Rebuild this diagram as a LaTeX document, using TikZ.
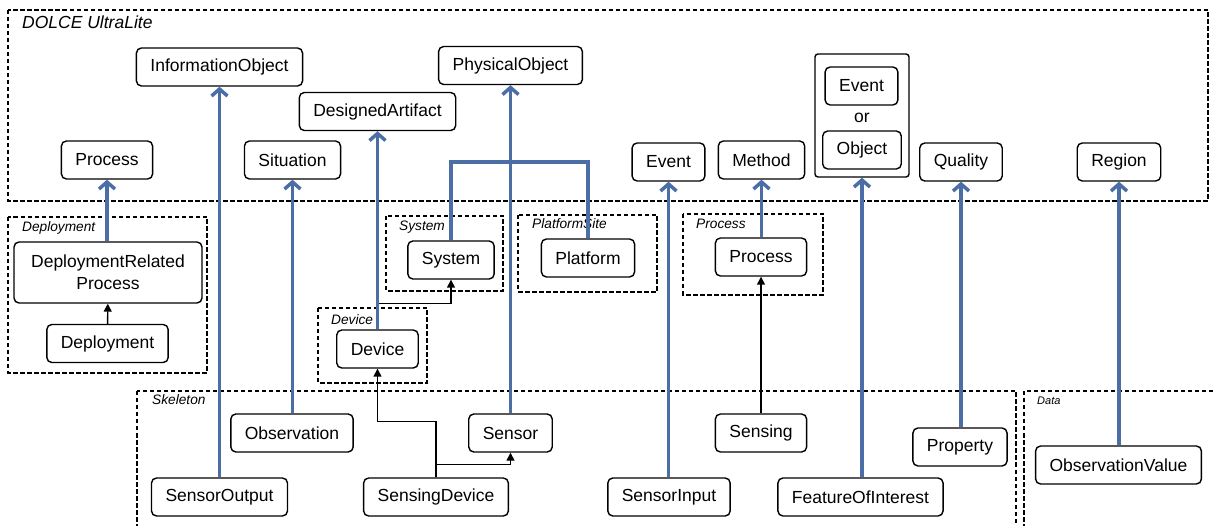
\documentclass[tikz,border=0pt]{standalone}
\usepackage{fontspec}
\setmainfont{Liberation Sans}
\usetikzlibrary{arrows.meta}
\definecolor{isablue}{RGB}{74,110,165}
\tikzset{
  cls/.style={draw, rounded corners=5pt, line width=1.4pt, inner xsep=14pt, minimum height=38pt, font=\fontsize{17.5}{22}\selectfont},
  grp/.style={draw, dash pattern=on 4.5pt off 2.5pt, line width=1.3pt},
  grplabel/.style={anchor=base west, inner sep=0pt, font=\fontsize{13.7}{16}\selectfont\itshape},
  isa/.style={draw=isablue, line width=3.5pt, -{Straight Barb[length=7pt,width=16pt]}},
  sub/.style={draw, line width=1.4pt, -{Triangle[length=8pt,width=8pt]}},
}
\begin{document}
\begin{tikzpicture}[x=1pt,y=-1pt]
\useasboundingbox (0,0) rectangle (1213,526);

% DOLCE UltraLite
\draw[grp] (8,10) rectangle (1208,201);
\node[grplabel, font=\fontsize{17.5}{21}\selectfont\itshape] (lblDolce) at (22,29) {DOLCE UltraLite};
\node[cls] (InformationObject) at (219.5,67) {InformationObject};
\node[cls] (DulProcess) at (107,160) {Process};
\node[cls] (Situation) at (292.5,160) {Situation};
\node[cls] (DesignedArtifact) at (377.5,111.5) {DesignedArtifact};
\node[cls] (PhysicalObject) at (510.5,65.5) {PhysicalObject};
\node[cls] (DulEvent) at (668.5,162) {Event};
\node[cls] (Method) at (761.5,160) {Method};
\node[draw, rounded corners=3pt, line width=1.4pt, minimum width=94pt, minimum height=123pt] (EventOrObject) at (862,115.5) {};
\node[cls] (OrEvent) at (861.5,86) {Event};
\node[font=\fontsize{17.5}{21}\selectfont] (orText) at (862,118) {or};
\node[cls] (OrObject) at (862,150) {Object};
\node[cls] (Quality) at (961,162) {Quality};
\node[cls] (Region) at (1119,162) {Region};

% modules
\draw[grp] (8,217) rectangle (207,373);
\node[grplabel] (lblDeployment) at (22,232) {Deployment};
\node[cls, align=center, minimum width=188pt, minimum height=61pt] (DeploymentRelatedProcess) at (108,272.5) {DeploymentRelated\\Process};
\node[cls] (Deployment) at (107.5,343.5) {Deployment};

\draw[grp] (386,216) rectangle (503,291);
\node[grplabel] (lblSystem) at (399,231) {System};
\node[cls] (System) at (451,260) {System};

\draw[grp] (518,215) rectangle (657,292);
\node[grplabel] (lblPlatformSite) at (532,229) {PlatformSite};
\node[cls] (Platform) at (588,258) {Platform};

\draw[grp] (683,214) rectangle (823,295);
\node[grplabel] (lblProcess) at (696,229) {Process};
\node[cls] (Process) at (761,257) {Process};

\draw[grp] (318,308) rectangle (427,383);
\node[grplabel] (lblDevice) at (331,325) {Device};
\node[cls] (Device) at (377.5,349) {Device};

% Skeleton
\draw[grp] (137,391) rectangle (1016,560);
\node[grplabel] (lblSkeleton) at (152,405) {Skeleton};
\node[cls] (Observation) at (292,433) {Observation};
\node[cls] (Sensor) at (510.5,433) {Sensor};
\node[cls] (Sensing) at (761,433) {Sensing};
\node[cls] (Property) at (960,447) {Property};
\node[cls] (SensorOutput) at (219.5,497) {SensorOutput};
\node[cls] (SensingDevice) at (436,497) {SensingDevice};
\node[cls] (SensorInput) at (669,497) {SensorInput};
\node[cls] (FeatureOfInterest) at (860.5,497) {FeatureOfInterest};

% Data
\draw[grp] (1024,391) rectangle (1240,560);
\node[grplabel, font=\fontsize{11}{13}\selectfont\itshape] (lblData) at (1037,405) {Data};
\node[cls] (ObservationValue) at (1118.5,465) {ObservationValue};

% subclass links inside the modules
\draw[sub] (Deployment) -- (DeploymentRelatedProcess);
\draw[sub] (Device.north) -- ++(0,-26) -| (System.south);
\draw[sub] (SensingDevice.north) -- ++(0,-56) -| (Device.south);
\draw[sub] (SensingDevice.north) ++(0,-13) -| (Sensor.south);
\draw[sub] (Sensing) -- (Process);

% alignments to DOLCE
\coordinate (poBar) at (511,162);
\draw[isa] (DeploymentRelatedProcess.north -| DulProcess.south) -- (DulProcess.south);
\draw[isa] (SensorOutput.north) -- (InformationObject.south);
\draw[isa] (Observation.north -| Situation.south) -- (Situation.south);
\draw[isa] (Device.north) -- (DesignedArtifact.south);
\draw[isa] (Sensor.north) -- (PhysicalObject.south);
\draw[isa, -] (System.north) |- (poBar) -| (Platform.north);
\draw[isa] (SensorInput.north -| DulEvent.south) -- (DulEvent.south);
\draw[isa] (Process.north -| Method.south) -- (Method.south);
\draw[isa] (FeatureOfInterest.north -| EventOrObject.south) -- (EventOrObject.south);
\draw[isa] (Property.north -| Quality.south) -- (Quality.south);
\draw[isa] (ObservationValue.north -| Region.south) -- (Region.south);
\end{tikzpicture}
\end{document}
